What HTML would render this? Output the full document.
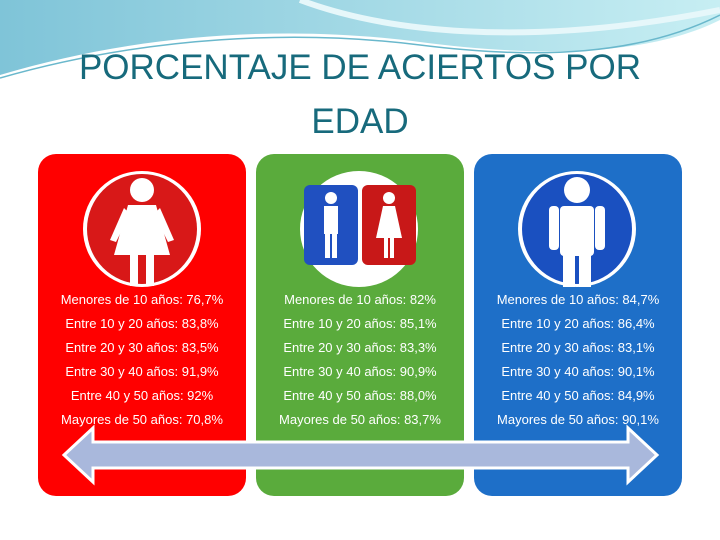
<!DOCTYPE html>
<html><head><meta charset="utf-8"><style>
body{margin:0;width:720px;height:540px;background:#fff;position:relative;overflow:hidden;font-family:"Liberation Sans",sans-serif}
.title{position:absolute;left:0;width:720px;text-align:center;color:#176a7c;font-size:35px;line-height:54px;top:41px}
.panel{position:absolute;top:154px;width:208px;height:342px;border-radius:18px}
.row{position:absolute;left:0;width:100%;text-align:center;color:#fff;font-size:13px}
</style></head><body>
<svg width="720" height="110" style="position:absolute;left:0;top:0">
<defs><linearGradient id="g" x1="0" x2="1"><stop offset="0" stop-color="#7fc4d8"/><stop offset="1" stop-color="#c7eef3"/></linearGradient></defs>
<path d="M0 0H720V20C640 60 520 55 420 42C300 26 150 30 0 75Z" fill="url(#g)"/>
<path d="M0 78C150 35 300 30 420 45C540 60 640 55 720 15" fill="none" stroke="#6ab8cc" stroke-width="1.5"/>
<path d="M300 0C380 30 520 50 720 10" fill="none" stroke="#e6f7fa" stroke-width="6"/>
</svg>
<div class="title">PORCENTAJE DE ACIERTOS POR<br>EDAD</div>

<div class="panel" style="left:38px;background:#ff0000"></div>
<div class="panel" style="left:256px;background:#5aab3c"></div>
<div class="panel" style="left:474px;background:#1e6fc8"></div>

<svg width="720" height="300" style="position:absolute;left:0;top:0">
<ellipse cx="142" cy="229" rx="59" ry="58" fill="#fff"/><ellipse cx="142" cy="229" rx="55" ry="55" fill="#d81818"/>
<g fill="#fff"><circle cx="142" cy="190" r="12"/><path d="M128 205H156L170 255H114Z"/><rect x="130" y="250" width="8" height="36"/><rect x="146" y="250" width="8" height="36"/><path d="M124 208L110 240L116 242L130 214Z"/><path d="M160 208L174 240L168 242L154 214Z"/></g>
<ellipse cx="359" cy="229" rx="59" ry="58" fill="#fff"/>
<rect x="304" y="185" width="54" height="80" rx="6" fill="#2050c0"/><rect x="362" y="185" width="54" height="80" rx="6" fill="#c81818"/>
<g fill="#fff"><circle cx="331" cy="198" r="6"/><rect x="324" y="206" width="14" height="28"/><rect x="325" y="230" width="5" height="28"/><rect x="332" y="230" width="5" height="28"/>
<circle cx="389" cy="198" r="6"/><path d="M383 206H395L402 238H376Z"/><rect x="384" y="236" width="4" height="22"/><rect x="390" y="236" width="4" height="22"/></g>
<ellipse cx="577" cy="229" rx="59" ry="58" fill="#fff"/><ellipse cx="577" cy="229" rx="55" ry="55" fill="#1a50c0"/>
<g fill="#fff"><circle cx="577" cy="190" r="13"/><rect x="560" y="206" width="34" height="50" rx="4"/><rect x="549" y="206" width="10" height="44" rx="4"/><rect x="595" y="206" width="10" height="44" rx="4"/><rect x="563" y="250" width="12" height="37"/><rect x="579" y="250" width="12" height="37"/></g>
</svg>

<div style="position:absolute;left:38px;top:0;width:208px;height:540px">
<div class="row" style="top:292px">Menores de 10 años: 76,7%</div>
<div class="row" style="top:316px">Entre 10 y 20 años: 83,8%</div>
<div class="row" style="top:340px">Entre 20 y 30 años: 83,5%</div>
<div class="row" style="top:364px">Entre 30 y 40 años: 91,9%</div>
<div class="row" style="top:388px">Entre 40 y 50 años: 92%</div>
<div class="row" style="top:412px">Mayores de 50 años: 70,8%</div>
</div>
<div style="position:absolute;left:256px;top:0;width:208px;height:540px">
<div class="row" style="top:292px">Menores de 10 años: 82%</div>
<div class="row" style="top:316px">Entre 10 y 20 años: 85,1%</div>
<div class="row" style="top:340px">Entre 20 y 30 años: 83,3%</div>
<div class="row" style="top:364px">Entre 30 y 40 años: 90,9%</div>
<div class="row" style="top:388px">Entre 40 y 50 años: 88,0%</div>
<div class="row" style="top:412px">Mayores de 50 años: 83,7%</div>
</div>
<div style="position:absolute;left:474px;top:0;width:208px;height:540px">
<div class="row" style="top:292px">Menores de 10 años: 84,7%</div>
<div class="row" style="top:316px">Entre 10 y 20 años: 86,4%</div>
<div class="row" style="top:340px">Entre 20 y 30 años: 83,1%</div>
<div class="row" style="top:364px">Entre 30 y 40 años: 90,1%</div>
<div class="row" style="top:388px">Entre 40 y 50 años: 84,9%</div>
<div class="row" style="top:412px">Mayores de 50 años: 90,1%</div>
</div>

<svg width="720" height="540" style="position:absolute;left:0;top:0">
<path d="M64 455L93 428V442H628V428L657 455L628 482V468H93V482Z" fill="#a9b8dc" stroke="#fff" stroke-width="3"/>
</svg>
</body></html>
